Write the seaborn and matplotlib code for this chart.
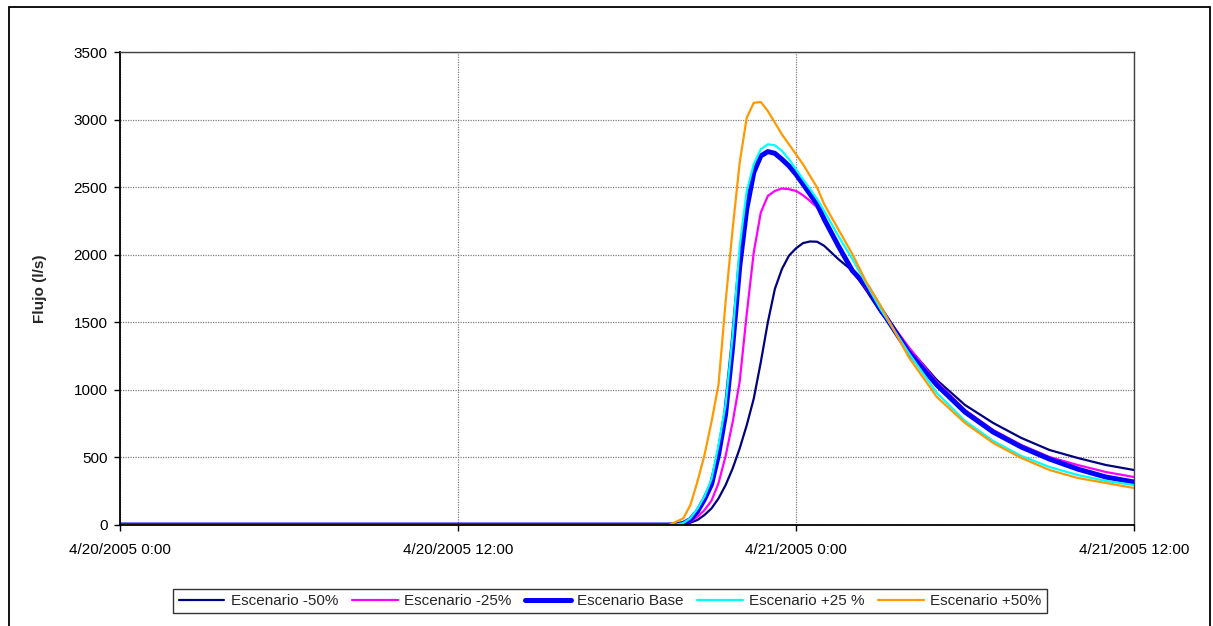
import numpy as np
import pandas as pd
import matplotlib
matplotlib.use("Agg")
import matplotlib.pyplot as plt
import seaborn as sns
from matplotlib.patches import Rectangle

# ---- data (hours since 4/20/2005 0:00, flow in l/s) ----
hours = [0, 19.5, 19.75, 20, 20.25, 20.5, 20.75, 21, 21.25, 21.5, 21.75,
         22, 22.25, 22.5, 22.75, 23, 23.25, 23.5, 23.75, 24, 24.25, 24.5, 24.75,
         25, 25.5, 26, 26.5, 27, 28, 29, 30, 31, 32, 33, 34, 35, 36]

esc_m50 = [0, 0, 0, 0, 17, 37, 74, 123, 197, 295, 418,
           566, 738, 935, 1205, 1500, 1747, 1894, 1993, 2047, 2086, 2098, 2096,
           2066, 1968, 1882, 1734, 1574, 1310, 1073, 888, 755, 644, 555, 496, 444, 407]
esc_m25 = [0, 0, 0, 5, 25, 60, 110, 180, 310, 510, 760,
           1060, 1560, 2017, 2312, 2435, 2472, 2490, 2485, 2472, 2440, 2398, 2350,
           2251, 2066, 1894, 1747, 1599, 1317, 1058, 851, 703, 592, 503, 444, 392, 355]
esc_base = [0, 0, 2, 12, 40, 100, 190, 300, 520, 820, 1320,
            1910, 2337, 2608, 2731, 2763, 2750, 2706, 2657, 2595, 2522, 2448, 2374,
            2263, 2066, 1882, 1771, 1599, 1280, 1036, 836, 688, 577, 488, 414, 355, 318]
esc_p25 = [0, 0, 3, 15, 50, 120, 210, 340, 590, 890, 1400,
           2060, 2470, 2669, 2780, 2817, 2810, 2768, 2706, 2632, 2558, 2485, 2411,
           2325, 2140, 1968, 1783, 1599, 1273, 977, 770, 622, 511, 429, 370, 326, 296]
esc_p50 = [0, 0, 25, 49, 148, 320, 517, 763, 1040, 1650, 2189,
           2681, 3013, 3124, 3130, 3063, 2977, 2890, 2817, 2743, 2669, 2583, 2497,
           2374, 2189, 2005, 1796, 1624, 1243, 947, 755, 607, 496, 407, 348, 311, 274]

labels = ["Escenario -50%", "Escenario -25%", "Escenario Base",
          "Escenario +25 %", "Escenario +50%"]
colors = ["#000080", "#FF00FF", "#0000FF", "#00FFFF", "#FF9900"]
widths = [1.6, 1.6, 3.6, 1.6, 1.6]

x_ticks = [0, 12, 24, 36]
x_ticklabels = ["4/20/2005 0:00", "4/20/2005 12:00", "4/21/2005 0:00", "4/21/2005 12:00"]
y_ticks = list(range(0, 3501, 500))

# ---- style ----
sns.set_style("white")
plt.rcParams["font.family"] = ["Liberation Sans", "DejaVu Sans"]

fig = plt.figure(figsize=(12.13, 6.26), dpi=100)
ax = fig.add_axes([120 / 1213, 1 - 525 / 626, 1014 / 1213, 473 / 626])

series = [esc_m50, esc_m25, esc_base, esc_p25, esc_p50]
for vals, lab, col, lw in zip(series, labels, colors, widths):
    sns.lineplot(x=hours, y=vals, color=col, linewidth=lw, label=lab, ax=ax)

ax.set_xlim(0, 36)
ax.set_ylim(0, 3500)
ax.set_xticks(x_ticks)
ax.set_xticklabels(x_ticklabels)
ax.set_yticks(y_ticks)
ax.tick_params(axis="both", labelsize=11, colors="black", length=4, width=1,
               direction="out")
ax.tick_params(axis="x", pad=9)
ax.tick_params(axis="y", pad=5)
ax.tick_params(left=True, bottom=True)

ax.grid(True, color="#808080", linestyle=(0, (1, 1)), linewidth=0.9)
ax.set_axisbelow(True)

for side in ["left", "bottom"]:
    ax.spines[side].set_color("black")
    ax.spines[side].set_linewidth(1.3)
for side in ["top", "right"]:
    ax.spines[side].set_color("#404040")
    ax.spines[side].set_linewidth(1.0)

ax.set_xlabel("")
ax.set_ylabel("Flujo (l/s)", fontsize=11, fontweight="bold")
ax.yaxis.set_label_coords(-73 / 1014, 0.5)

# legend below the chart
ax.legend_.remove()
handles, labs = ax.get_legend_handles_labels()
leg = fig.legend(handles, labs, loc="center", ncol=5,
                 bbox_to_anchor=(610 / 1213, 1 - 601 / 626),
                 fontsize=11, frameon=True, fancybox=False,
                 handlelength=3.0, handletextpad=0.4, columnspacing=0.9,
                 borderpad=0.35, edgecolor="black")
leg.get_frame().set_linewidth(1.0)

# outer chart border
fig.patches.append(Rectangle((9 / 1213, -0.02), 1201 / 1213, 1 - 7 / 626 + 0.02,
                             transform=fig.transFigure, fill=False,
                             edgecolor="black", linewidth=1.3))

fig.savefig("out.png", dpi=100)
